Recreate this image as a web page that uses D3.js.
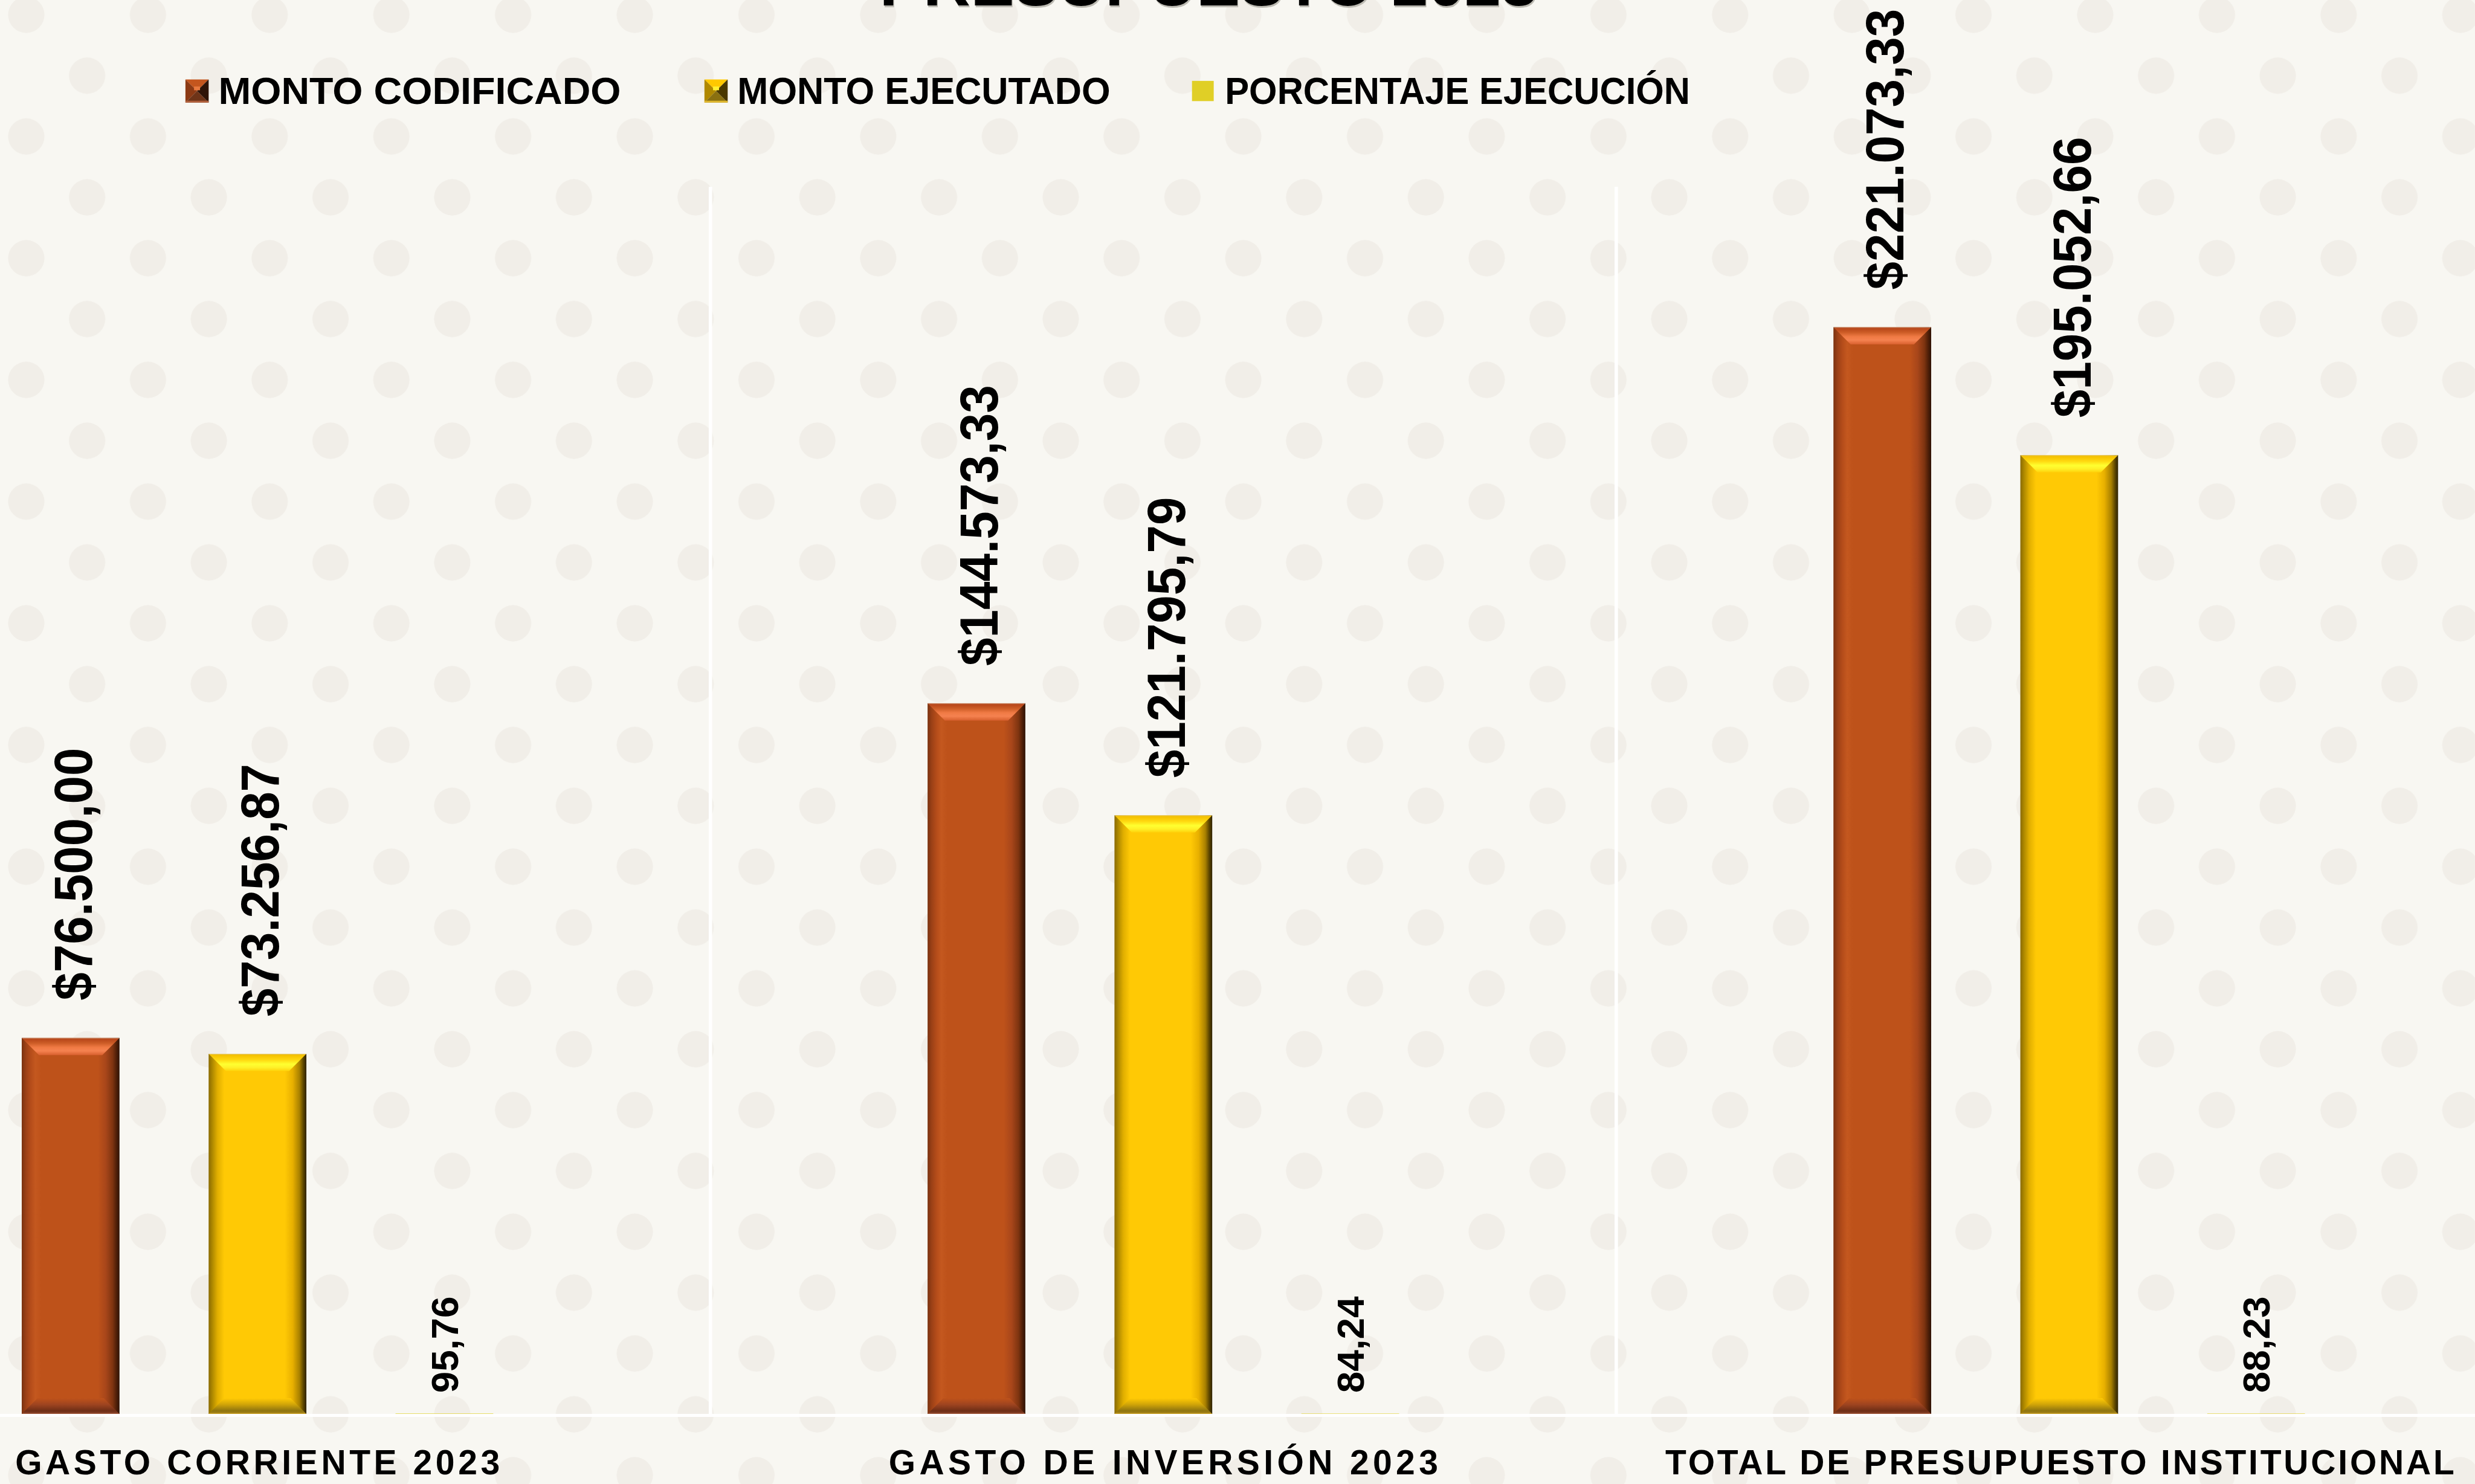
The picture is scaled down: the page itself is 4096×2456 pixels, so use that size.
<!DOCTYPE html>
<html><head><meta charset="utf-8">
<script src="https://cdn.jsdelivr.net/npm/d3@7"></script>
<style>html,body{margin:0;padding:0;background:#F8F7F2;overflow:hidden}svg{display:block}</style>
</head><body>
<svg id="chart" width="4096" height="2456" viewBox="0 0 6609 3963"></svg>
<script>
// ---------------- data ----------------
const chartTitle = "PRESUPUESTO 2023";
const categories = ["GASTO CORRIENTE 2023", "GASTO DE INVERSIÓN 2023", "TOTAL DE PRESUPUESTO INSTITUCIONAL"];
const seriesNames = ["MONTO CODIFICADO", "MONTO EJECUTADO", "PORCENTAJE EJECUCIÓN"];
const montoCodificado = [76500.00, 144573.33, 221073.33];
const montoEjecutado = [73256.87, 121795.79, 195052.66];
const porcentajeEjecucion = [95.76, 84.24, 88.23];
const yAxisMax = 250000;

// ---------------- layout (not data) ----------------
const W = 6609, H = 3963;
const FONT = "'Liberation Sans', Arial, sans-serif";
const catLabelWidths = [1294, 1467, 2107];
const legendX = [495, 1881, 3183];
const legendTextWidths = [1075, 996, 1242];

const svg = d3.select("#chart");
const defs = svg.append("defs");

const loc = d3.formatLocale({decimal: ",", thousands: ".", grouping: [3], currency: ["$", ""]});
const fmtMoney = loc.format("$,.2f");
const fmtPct = loc.format(",.2f");

const plot = {left: -522, right: 6735, top: 494, bottom: 3776};
const x0 = d3.scaleBand().domain(categories).range([plot.left, plot.right]).paddingInner(0).paddingOuter(0);
const x1 = d3.scaleBand().domain(seriesNames).range([0, x0.bandwidth()]).paddingInner(0.477).paddingOuter(1.162);
const y = d3.scaleLinear().domain([0, yAxisMax]).range([plot.bottom, plot.top]);

const seriesValues = [montoCodificado, montoEjecutado, porcentajeEjecucion];

// ---------------- background ----------------
svg.append("rect").attr("width", W).attr("height", H).attr("fill", "#F8F7F2");
const pat = defs.append("pattern").attr("id", "dots").attr("patternUnits", "userSpaceOnUse")
  .attr("x", -11.25).attr("y", -41.75).attr("width", 325).attr("height", 325);
pat.append("circle").attr("cx", 81.25).attr("cy", 81.25).attr("r", 48.5).attr("fill", "#F1EEE8");
pat.append("circle").attr("cx", 243.75).attr("cy", 243.75).attr("r", 48.5).attr("fill", "#F1EEE8");
svg.append("rect").attr("width", W).attr("height", H).attr("fill", "url(#dots)");

// ---------------- gradients ----------------
function grad(id, vertical, stops) {
  const g = defs.append("linearGradient").attr("id", id)
    .attr("x1", 0).attr("y1", 0).attr("x2", vertical ? 0 : 1).attr("y2", vertical ? 1 : 0);
  stops.forEach(([o, c]) => g.append("stop").attr("offset", o).attr("stop-color", c));
}
grad("oSide", false, [[0, "#7A3210"], [0.04, "#9A4016"], [0.09, "#B44C1A"], [0.14, "#C4581F"], [0.2, "#BE521A"],
  [0.78, "#BE521A"], [0.86, "#A8461A"], [0.93, "#7E3410"], [0.97, "#4E1F08"], [1, "#2E1205"]]);
grad("oTop", true, [[0, "#C8906E"], [0.07, "#B8461A"], [0.3, "#CC5C26"], [0.55, "#F07A44"], [0.75, "#F58250"], [1, "#D8602E"]]);
grad("oBot", true, [[0, "#BE521A"], [0.4, "#9E4420"], [0.8, "#6E2E16"], [0.9, "#7A3820"], [1, "#A85A3A"]]);
grad("ySide", false, [[0, "#8A6A00"], [0.04, "#B08A00"], [0.09, "#E0AE00"], [0.16, "#FFC905"],
  [0.78, "#FFC905"], [0.86, "#E8B000"], [0.93, "#A88000"], [0.97, "#5A4400"], [1, "#2E2200"]]);
grad("yTop", true, [[0, "#E0C87A"], [0.07, "#F4C000"], [0.35, "#FFD810"], [0.6, "#FFFF30"], [0.8, "#FFF028"], [1, "#FFD20A"]]);
grad("yBot", true, [[0, "#FFC905"], [0.4, "#D0A408"], [0.8, "#8E7410"], [0.92, "#A08018"], [1, "#D8A820"]]);

const styles = [
  {side: "url(#oSide)", top: "url(#oTop)", bot: "url(#oBot)"},
  {side: "url(#ySide)", top: "url(#yTop)", bot: "url(#yBot)"},
  {flat: "#E0CF26"}
];

// ---------------- separators ----------------
const sepG = svg.append("g");
categories.forEach((c) => {
  const xs = x0(c);
  sepG.append("line").attr("x1", xs).attr("x2", xs).attr("y1", 499).attr("y2", plot.bottom + 1)
    .attr("stroke", "#FFFFFF").attr("stroke-width", 9);
});
sepG.append("line").attr("x1", plot.right).attr("x2", plot.right).attr("y1", 499).attr("y2", plot.bottom + 1)
  .attr("stroke", "#FFFFFF").attr("stroke-width", 9);

// ---------------- bars ----------------
const barsG = svg.append("g");
const bw = x1.bandwidth();
const bev = 46, bevB = 42;
const P = pts => pts.map(p => p.join(",")).join(" ");
categories.forEach((cat, ci) => {
  seriesNames.forEach((s, si) => {
    const v = seriesValues[si][ci];
    const bx = x0(cat) + x1(s);
    const top = y(v), bot = y(0);
    const h = bot - top;
    const st = styles[si];
    const g = barsG.append("g");
    if (st.flat) {
      g.append("rect").attr("x", bx).attr("y", top).attr("width", bw).attr("height", h).attr("fill", st.flat);
      return;
    }
    g.append("rect").attr("x", bx).attr("y", top).attr("width", bw).attr("height", h).attr("fill", st.side);
    const b1 = Math.min(bev, h / 2), b2 = Math.min(bevB, h / 2);
    g.append("polygon")
      .attr("points", P([[bx, top], [bx + bw, top], [bx + bw - b1, top + b1], [bx + b1, top + b1]]))
      .attr("fill", st.top);
    g.append("polygon")
      .attr("points", P([[bx, bot], [bx + bw, bot], [bx + bw - b2, bot - b2], [bx + b2, bot - b2]]))
      .attr("fill", st.bot);
  });
});

// baseline
svg.append("line").attr("x1", plot.left).attr("x2", plot.right).attr("y1", plot.bottom + 4).attr("y2", plot.bottom + 4)
  .attr("stroke", "#FFFFFF").attr("stroke-width", 8);

// ---------------- data labels ----------------
const lblG = svg.append("g").attr("font-family", FONT).attr("font-weight", "bold").attr("fill", "#000");
categories.forEach((cat, ci) => {
  seriesNames.forEach((s, si) => {
    const v = seriesValues[si][ci];
    const cx = x0(cat) + x1(s) + bw / 2;
    if (si < 2) {
      lblG.append("text")
        .attr("transform", `translate(${cx + 57},${y(v) - 100}) rotate(-90) scale(0.93,1)`)
        .attr("font-size", 145).attr("text-anchor", "start")
        .text(fmtMoney(v));
    } else {
      lblG.append("text")
        .attr("transform", `translate(${cx + 36},${y(v) - 55}) rotate(-90)`)
        .attr("font-size", 103).attr("text-anchor", "start")
        .text(fmtPct(v));
    }
  });
});

// ---------------- category axis labels ----------------
svg.append("g").selectAll("text").data(categories).join("text")
  .attr("x", (d, i) => {
    const c = x0(d) + x0.bandwidth() / 2;
    const wdt = catLabelWidths[i];
    return Math.min(c - wdt / 2, W - 55 - wdt);
  })
  .attr("y", 3937)
  .attr("text-anchor", "start").attr("font-family", FONT).attr("font-weight", "bold")
  .attr("font-size", 92).attr("fill", "#000")
  .attr("textLength", (d, i) => catLabelWidths[i]).attr("lengthAdjust", "spacing")
  .text(d => d);

// ---------------- legend ----------------
const legG = svg.append("g").attr("font-family", FONT).attr("font-weight", "bold");
const pyr = [
  {top: "#C4561E", hl: "#E8793F", left: "#8C3A14", right: "#2E1408", bottom: "#6E3418", edge: "#B0603C"},
  {top: "#FFC800", hl: "#FFF030", left: "#B08800", right: "#4A3800", bottom: "#8A7010", edge: "#E0B830"}
];
seriesNames.forEach((s, i) => {
  const lx = legendX[i];
  const g = legG.append("g");
  if (i < 2) {
    const m = 62, x = lx, yy = 212, c = [x + m / 2, yy + m / 2];
    const p = pyr[i];
    g.append("polygon").attr("points", P([[x, yy], [x + m, yy], c])).attr("fill", p.top);
    g.append("polygon").attr("points", P([[x, yy], [x, yy + m], c])).attr("fill", p.left);
    g.append("polygon").attr("points", P([[x + m, yy], [x + m, yy + m], c])).attr("fill", p.right);
    g.append("polygon").attr("points", P([[x, yy + m], [x + m, yy + m], c])).attr("fill", p.bottom);
    g.append("rect").attr("x", x + m / 2 - 8).attr("y", yy + m / 2 - 12).attr("width", 16).attr("height", 10).attr("fill", p.hl);
    g.append("rect").attr("x", x).attr("y", yy + m - 5).attr("width", m).attr("height", 5).attr("fill", p.edge);
  } else {
    g.append("rect").attr("x", lx).attr("y", 216).attr("width", 58).attr("height", 54).attr("fill", styles[2].flat);
  }
  g.append("text").attr("x", lx + 88).attr("y", 278).attr("font-size", 101).attr("fill", "#000")
    .attr("textLength", legendTextWidths[i]).attr("lengthAdjust", "spacingAndGlyphs")
    .text(s);
});

// ---------------- title (cut by the top edge, as in the reference) ----------------
const tG = svg.append("g").attr("font-family", FONT).attr("font-weight", "bold").attr("font-size", 175).attr("text-anchor", "middle");
tG.append("text").attr("x", 3229).attr("y", 19).attr("fill", "#BDBBB3").text(chartTitle);
tG.append("text").attr("x", 3227).attr("y", 15).attr("fill", "#000").text(chartTitle);
</script>
</body></html>
